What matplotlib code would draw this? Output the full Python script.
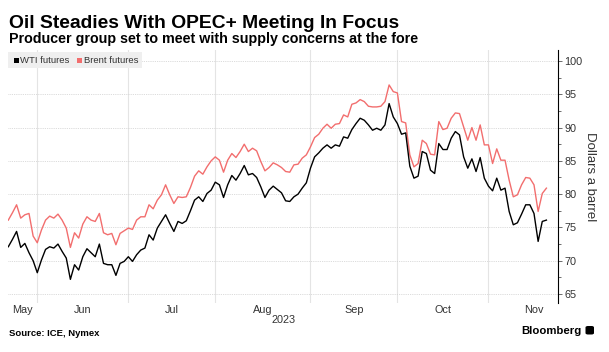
import matplotlib
matplotlib.use("Agg")
import matplotlib.pyplot as plt
import numpy as np
import pandas as pd
from matplotlib.patches import Rectangle, FancyBboxPatch

# ---------------- data ----------------
dates = pd.bdate_range("2023-05-22", "2023-11-20")

wti = [
    # May 22 - Jul 5
    72.1, 73.2, 74.4, 72.0, 72.6, 71.2, 70.0, 68.2, 70.1, 71.7,
    72.1, 71.9, 72.5, 71.4, 70.4, 67.2, 69.4, 68.6, 70.6, 71.8,
    71.2, 70.6, 72.5, 69.6, 69.4, 69.4, 67.8, 69.6, 69.9, 70.6,
    69.9, 70.9, 71.6,
    # Jul 6 - Aug 17
    71.9, 73.9, 73.1, 74.9, 75.9, 76.9, 75.6, 74.4, 75.9, 75.6,
    76.0, 77.5, 79.1, 79.6, 78.9, 80.1, 80.6, 81.8, 81.4, 79.5,
    81.4, 82.8, 82.1, 83.1, 84.3, 82.9, 83.1, 82.5, 81.1, 79.5,
    80.6,
    # Aug 18 - Sep 29
    81.2, 80.7, 80.2, 79.0, 78.9, 79.6, 80.0, 80.9, 81.7, 83.9,
    85.6, 86.2, 86.9, 87.4, 86.9, 87.4, 87.2, 88.6, 88.4, 89.7,
    90.6, 91.4, 91.1, 90.4, 89.6, 89.9, 89.6, 90.4, 93.6, 91.6,
    90.6,
    # Oct 2 - Nov 20
    89.0, 89.2, 84.2, 82.4, 82.7, 86.4, 86.1, 83.6, 83.1, 87.6,
    86.7, 86.7, 88.4, 89.4, 88.9, 85.6, 83.9, 85.3, 83.4, 85.5,
    82.4, 81.2, 80.5, 82.4, 80.6, 80.9, 77.4, 75.4, 75.7, 77.0,
    78.4, 78.4, 77.1, 72.9, 75.9, 76.1,
]

brent = [
    # May 22 - Jul 5
    76.1, 77.2, 78.4, 76.4, 76.9, 77.1, 73.7, 72.7, 74.6, 76.1,
    76.7, 76.4, 77.0, 76.1, 74.9, 72.0, 74.2, 73.4, 75.5, 76.6,
    76.1, 75.9, 77.1, 74.2, 73.9, 74.1, 72.4, 74.1, 74.5, 74.9,
    74.7, 76.1, 76.6,
    # Jul 6 - Aug 17
    76.6, 78.4, 77.8, 79.1, 79.9, 81.4, 79.9, 78.6, 79.6, 79.5,
    79.6, 81.0, 82.7, 83.5, 83.0, 84.1, 85.0, 85.6, 85.1, 83.3,
    85.1, 86.1, 85.5, 86.4, 87.5, 86.4, 86.9, 86.5, 84.9, 83.5,
    84.0,
    # Aug 18 - Sep 29
    84.7, 84.4, 84.0, 83.4, 83.3, 84.4, 84.5, 85.4, 85.9, 87.1,
    88.5, 89.0, 89.9, 90.5, 89.9, 90.5, 90.6, 91.9, 91.6, 93.5,
    93.7, 94.2, 93.9, 93.2, 93.1, 93.1, 93.2, 93.9, 96.4, 95.4,
    95.2,
    # Oct 2 - Nov 20
    90.9, 90.7, 85.9, 84.1, 84.6, 88.1, 87.6, 86.0, 85.9, 90.9,
    89.7, 89.9, 91.4, 92.2, 92.1, 90.1, 88.1, 90.0, 88.1, 90.4,
    87.4, 87.4, 84.6, 86.8, 85.1, 85.1, 82.1, 79.6, 79.9, 81.4,
    82.5, 82.4, 81.4, 77.4, 80.1, 80.9,
]

series_names = ["WTI futures", "Brent futures"]
month_labels = ["May", "Jun", "Jul", "Aug", "Sep", "Oct", "Nov"]
year_label = "2023"
y_ticks = [65, 70, 75, 80, 85, 90, 95, 100]

title = "Oil Steadies With OPEC+ Meeting In Focus"
subtitle = "Producer group set to meet with supply concerns at the fore"
source = "Source: ICE, Nymex"
y_label = "Dollars a barrel"

# ---------------- styling ----------------
W, H = 609, 352
WTI_COLOR = "#000000"
BRENT_COLOR = "#f26e6e"
TEXT = "#333333"
FONT = ["Liberation Sans", "DejaVu Sans"]

def fx(x):
    return x / W

def fy(y):
    return 1 - y / H

fig = plt.figure(figsize=(W / 100, H / 100), dpi=100)
fig.patch.set_facecolor("white")

ax_left, ax_right, ax_top, ax_bot = 8.3, 558.0, 50.0, 303.0
ax = fig.add_axes([fx(ax_left), fy(ax_bot), (ax_right - ax_left) / W, (ax_bot - ax_top) / H])
ax.set_facecolor("none")

x = np.arange(len(dates))
XMAX = 132.8
ax.set_xlim(0, XMAX)
ax.set_ylim(63.65, 101.65)

# month boundaries in weekday-index space
full = pd.bdate_range("2023-05-01", "2023-11-30")
offset = full.get_loc(dates[0])
centers = []
for m in range(5, 12):
    idxs = np.where(full.month == m)[0] - offset
    start, end = idxs[0] - 1, idxs[-1]
    c = (start + end) / 2
    if c < 0 or c > XMAX:
        c = (max(start, 0) + min(end, XMAX)) / 2
    centers.append(c)
    if m > 5:
        ax.axvline(start, color="#e4e4e4", lw=0.8, zorder=0)

# horizontal dotted grid
for v in y_ticks:
    ax.axhline(v, color="#cfcfcf", lw=0.6, ls=(0, (1, 1.2)), zorder=0)

ax.plot(x, brent, color=BRENT_COLOR, lw=1.0, zorder=3, solid_joinstyle="round")
ax.plot(x, wti, color=WTI_COLOR, lw=1.0, zorder=4, solid_joinstyle="round")

# spines / ticks
for s in ["left", "top", "bottom"]:
    ax.spines[s].set_visible(False)
ax.spines["right"].set_color("black")
ax.spines["right"].set_linewidth(0.8)
ax.yaxis.tick_right()
ax.set_yticks(y_ticks)
ax.set_yticks([v + 2.5 for v in y_ticks[:-1]], minor=True)
ax.tick_params(axis="y", which="major", length=3, width=0.6, color="#555555",
               pad=1.5, labelsize=7.8, labelcolor=TEXT)
ax.tick_params(axis="y", which="minor", length=2.5, width=0.6, color="#555555")
for lab in ax.get_yticklabels():
    lab.set_fontfamily(FONT)

ax.set_xticks(centers)
ax.set_xticklabels(month_labels, fontfamily=FONT, fontsize=7.8, color=TEXT)
ax.tick_params(axis="x", length=0, pad=1.5)

ax.text(1.0 + 32 / (ax_right - ax_left), 0.5, y_label, transform=ax.transAxes,
        rotation=270, ha="center", va="center", fontsize=9.5, color=TEXT,
        fontfamily=FONT)

# ---------------- figure texts ----------------
fig.text(fx(9), fy(28), title, fontsize=13.9, fontweight="bold", color="black",
         fontfamily=FONT, va="baseline", ha="left")
fig.text(fx(9), fy(42.5), subtitle, fontsize=10.3, fontweight="bold", color="black",
         fontfamily=FONT, va="baseline", ha="left")
fig.text(fx((ax_left + ax_right) / 2), fy(323), year_label, fontsize=7.8, color=TEXT,
         fontfamily=FONT, va="baseline", ha="center")
fig.text(fx(9), fy(336), source, fontsize=6.8, fontweight="bold", color="black",
         fontfamily=FONT, va="baseline", ha="left")
fig.text(fx(582), fy(333.5), "Bloomberg", fontsize=8.2, fontweight="bold", color="black",
         fontfamily=FONT, va="baseline", ha="right")
fig.add_artist(FancyBboxPatch((fx(585.5), fy(334.5)), fx(8.5), 8.5 / H,
                              boxstyle="round,pad=0,rounding_size=0.004",
                              transform=fig.transFigure, facecolor="black", edgecolor="none"))

# legend
fig.add_artist(Rectangle((fx(8.3), fy(68.3)), fx(133.4), 16.6 / H, transform=fig.transFigure,
                         facecolor="#efefef", edgecolor="none", zorder=5))
for (sx, tx), name, col in zip([(14, 20), (77, 83.5)], series_names, [WTI_COLOR, BRENT_COLOR]):
    fig.add_artist(Rectangle((fx(sx), fy(62.5)), fx(5), 5 / H, transform=fig.transFigure,
                             facecolor=col, edgecolor="none", zorder=6))
    fig.text(fx(tx), fy(60.2), name, fontsize=6.8, color=TEXT, fontfamily=FONT,
             va="center", ha="left", zorder=6)

fig.savefig("out.png", dpi=100, facecolor="white")
